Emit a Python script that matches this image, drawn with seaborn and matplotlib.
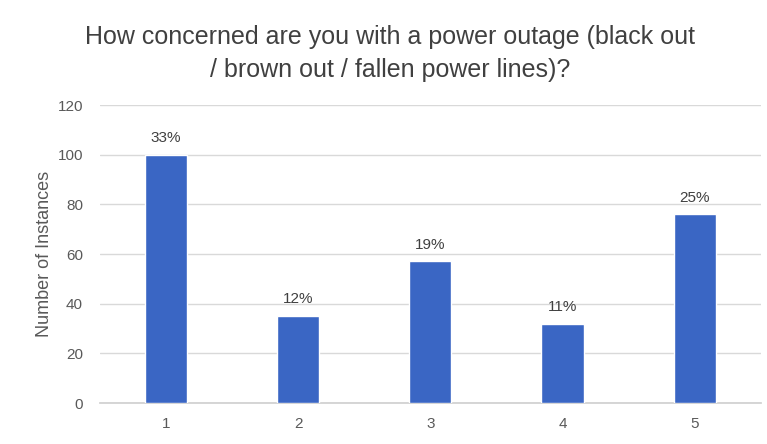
import matplotlib
matplotlib.use("Agg")
import matplotlib.pyplot as plt
import seaborn as sns
import pandas as pd

categories = ["1", "2", "3", "4", "5"]
counts = [100, 35, 57, 32, 76]
pct_labels = ["33%", "12%", "19%", "11%", "25%"]
yticks = [0, 20, 40, 60, 80, 100, 120]

sns.set_theme(style="white")
plt.rcParams['font.family'] = ['Liberation Sans', 'DejaVu Sans']

df = pd.DataFrame({"cat": categories, "count": counts})

fig = plt.figure(figsize=(7.67, 4.44), dpi=100)
ax = fig.add_axes([0.130, 0.0923, 0.862, 0.6712])

sns.barplot(data=df, x="cat", y="count", color="#3a66c4", width=0.32,
            saturation=1, ax=ax, zorder=3)

ax.set_ylim(0, 120)
ax.set_yticks(yticks)
ax.set_xlim(-0.5, 4.5)
ax.yaxis.grid(True, color="#d9d9d9", linewidth=1, zorder=0)
ax.set_axisbelow(True)
for s in ["top", "right", "left"]:
    ax.spines[s].set_visible(False)
ax.spines["bottom"].set_color("#d0d0d0")
ax.tick_params(axis="both", length=0, labelsize=11, labelcolor="#595959")
ax.tick_params(axis="y", pad=12)
ax.tick_params(axis="x", pad=10)
ax.set_xlabel("")
ax.set_ylabel("Number of Instances", fontsize=13, color="#595959", labelpad=3)

for i, (c, lab) in enumerate(zip(counts, pct_labels)):
    ax.annotate(lab, (i, c), xytext=(0, 7), textcoords="offset points",
                ha="center", va="bottom", fontsize=11, color="#404040")

fig.text(0.508, 0.88, "How concerned are you with a power outage (black out\n/ brown out / fallen power lines)?",
         ha="center", va="center", fontsize=18, color="#404040", linespacing=1.5)

fig.savefig("out.png", dpi=100, facecolor="white")
